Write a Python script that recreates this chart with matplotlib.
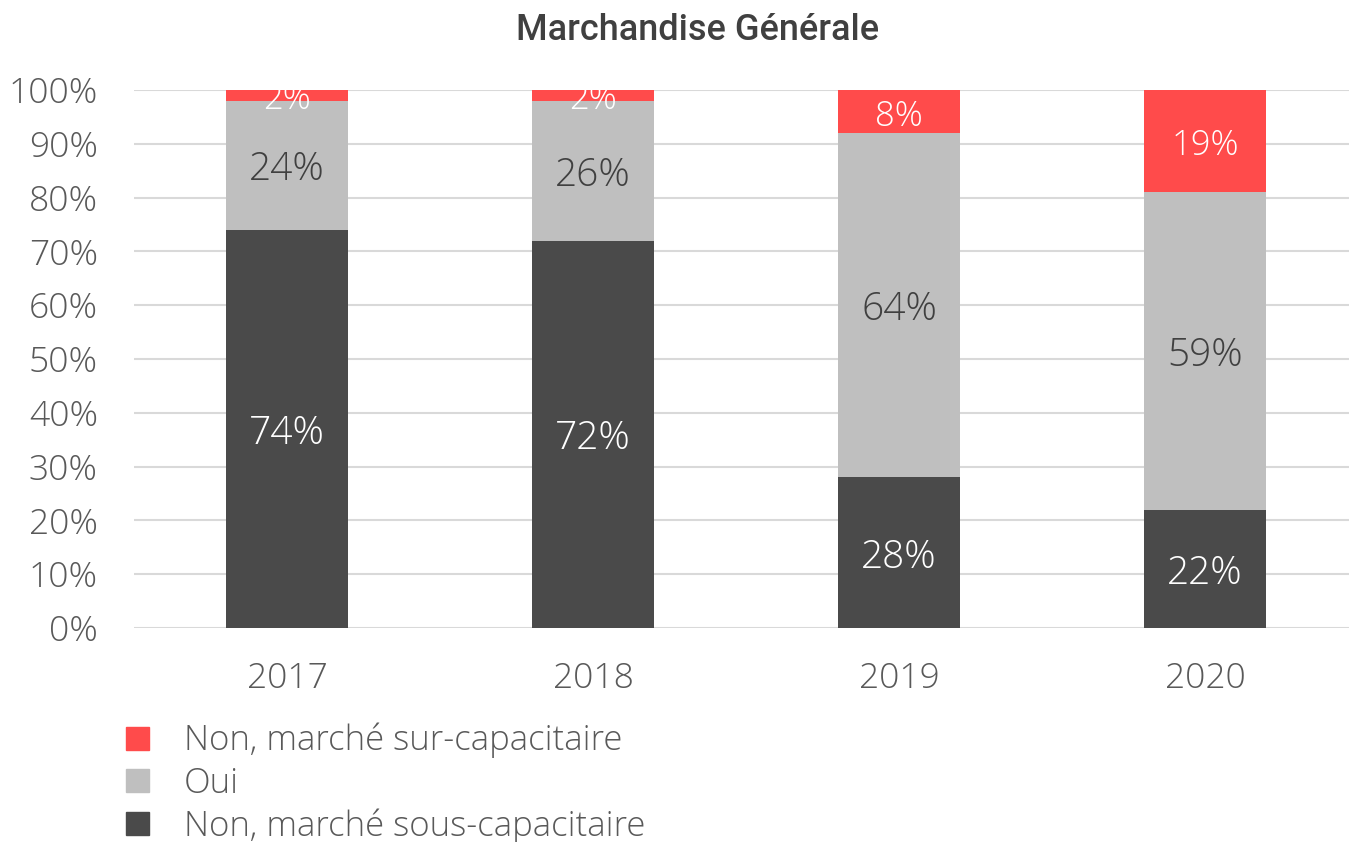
import matplotlib
matplotlib.use("Agg")
import matplotlib.pyplot as plt
from matplotlib.patches import Patch
import numpy as np

years = ["2017", "2018", "2019", "2020"]
sous = [74, 72, 28, 22]
oui = [24, 26, 64, 59]
sur = [2, 2, 8, 19]
series_names = ["Non, marché sur-capacitaire", "Oui", "Non, marché sous-capacitaire"]
yticks = [0, 10, 20, 30, 40, 50, 60, 70, 80, 90, 100]

c_sur = "#FF4B4B"
c_oui = "#BFBFBF"
c_sous = "#4A4A4A"
txt = "#595959"

plt.rcParams["font.family"] = ["Open Sans", "DejaVu Sans"]
FW = "light"

W, H = 1349, 842
fig = plt.figure(figsize=(W / 100, H / 100), dpi=100)
ax = fig.add_axes([134 / W, 1 - 628 / H, (W - 134) / W, (628 - 90) / H])

x = np.arange(len(years))
bw = 0.4
ax.bar(x, sous, bw, color=c_sous, zorder=3)
ax.bar(x, oui, bw, bottom=sous, color=c_oui, zorder=3)
ax.bar(x, sur, bw, bottom=np.array(sous) + np.array(oui), color=c_sur, zorder=3)

ax.set_xlim(-0.5, -0.5 + (W - 134) / 306)
ax.set_ylim(0, 100)
ax.set_yticks(yticks)
ax.set_yticklabels([f"{v}%" for v in yticks])
ax.set_xticks(x)
ax.set_xticklabels(years)
ax.tick_params(axis="both", length=0, labelsize=25.5, labelcolor=txt)
ax.tick_params(axis="y", pad=26)
ax.tick_params(axis="x", pad=24)
for lab in ax.get_yticklabels() + ax.get_xticklabels():
    lab.set_fontweight(FW)
ax.grid(axis="y", color="#D9D9D9", linewidth=1.5, zorder=0)
for s in ax.spines.values():
    s.set_visible(False)

def label(xv, yv, s, size, color):
    ax.annotate(s, (xv, yv), xytext=(0, -3.5), textcoords="offset points",
                ha="center", va="center", fontsize=size, color=color,
                fontweight=FW, zorder=4, annotation_clip=False)

for i in range(len(years)):
    label(x[i], sous[i] / 2, f"{sous[i]}%", 28, "white")
    label(x[i], sous[i] + oui[i] / 2, f"{oui[i]}%", 28, "#404040")
    label(x[i], sous[i] + oui[i] + sur[i] / 2, f"{sur[i]}%", 25, "white")

fig.text(698 / W, 1 - 30 / H, "Marchandise Générale", ha="center", va="center",
         fontsize=26, fontweight="medium", color="#404040", family=["Roboto", "DejaVu Sans"])

handles = [Patch(color=c_sur), Patch(color=c_oui), Patch(color=c_sous)]
leg = fig.legend(handles, series_names, loc="upper left",
                 bbox_to_anchor=(126 / W, 1 - 723 / H), frameon=False,
                 fontsize=25, handlelength=0.66, handleheight=0.66,
                 handletextpad=1.0, labelspacing=0.22, borderpad=0, borderaxespad=0)
for t in leg.get_texts():
    t.set_color(txt)
    t.set_fontweight(FW)

fig.savefig("out.png", dpi=100)
